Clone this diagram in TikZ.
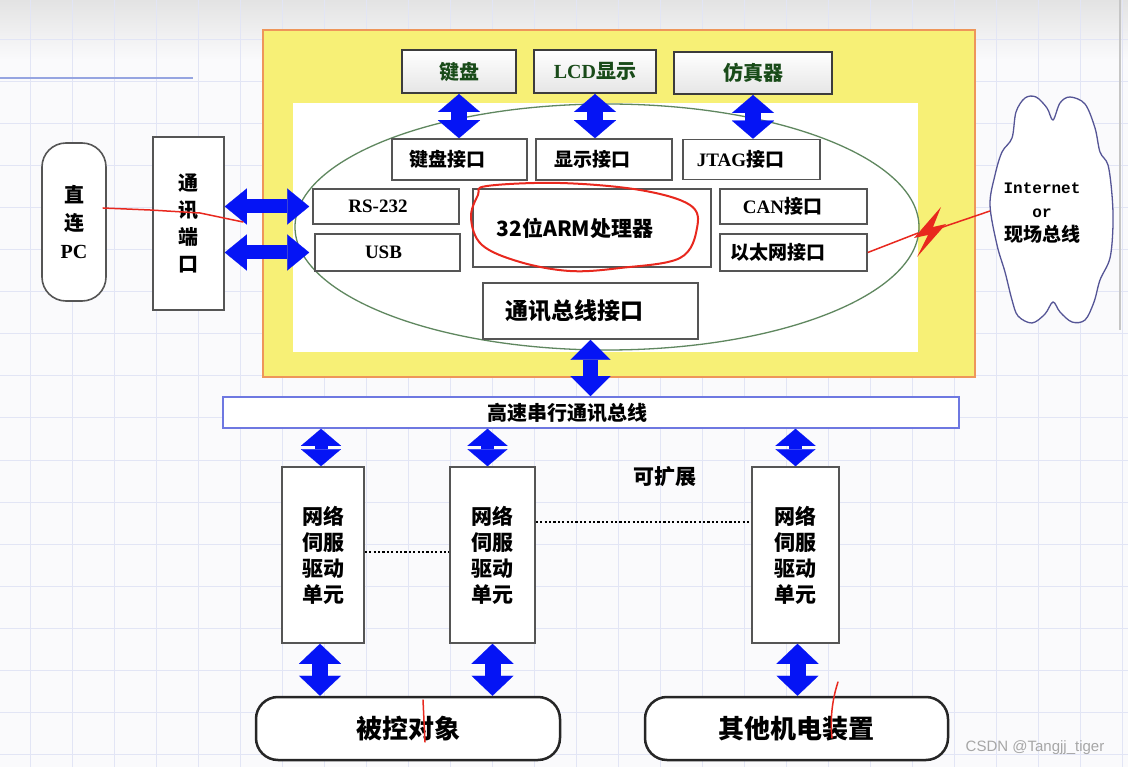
\documentclass[tikz,border=0pt]{standalone}
\usepackage{fontspec}
\setmainfont{Liberation Serif}
\newfontfamily\cjk{Noto Sans CJK SC}
\newfontfamily\mono{Liberation Mono}
\newfontfamily\wsans{Liberation Sans}
\usetikzlibrary{arrows.meta}
\newcommand\fsz[1]{\fontsize{#1}{#1}\selectfont}
\newcommand\monoline[1]{{\mono\bfseries\fontsize{16}{22}\selectfont #1}}
\newcommand\padr[1]{\rule{#1}{0pt}}
\definecolor{bgc}{RGB}{250,250,252}
\definecolor{gridc}{RGB}{226,229,245}
\definecolor{gridd}{RGB}{150,165,225}
\definecolor{ablue}{RGB}{5,20,245}
\definecolor{ylw}{RGB}{247,240,118}
\definecolor{orng}{RGB}{238,150,90}
\definecolor{boxgray}{RGB}{85,85,85}
\definecolor{topgray}{RGB}{60,60,60}
\definecolor{dgreen}{RGB}{25,75,25}
\definecolor{ellc}{RGB}{95,135,95}
\definecolor{busc}{RGB}{110,120,225}
\definecolor{cloudc}{RGB}{85,85,150}
\definecolor{annot}{RGB}{232,40,30}
\begin{document}
\begin{tikzpicture}[x=1pt,y=-1pt,
  sz/.style 2 args={minimum width=#1pt, minimum height=#2pt},
  ibox/.style={draw=boxgray, line width=1.6pt, fill=white, inner sep=0pt, font=\cjk\bfseries\fsz{19}},
  topbox/.style={draw=topgray, line width=2pt, top color=white, bottom color=gray!20, text=dgreen, inner sep=0pt, font=\cjk\bfseries\fsz{20}},
  tallbox/.style={draw=boxgray, line width=1.6pt, fill=white, inner sep=0pt, align=center},
  objbox/.style={draw=black!85, line width=2.5pt, fill=white, rounded corners=22pt, inner sep=0pt, font=\cjk\bfseries\fsz{26}},
  varr/.style={draw=ablue, line width=16pt, {Triangle[width=42pt,length=18pt,line width=0.1pt]}-{Triangle[width=42pt,length=18pt,line width=0.1pt]}},
  oarr/.style={draw=ablue, line width=16pt, {Triangle[width=42pt,length=20pt,line width=0.1pt]}-{Triangle[width=42pt,length=20pt,line width=0.1pt]}},
  harr/.style={draw=ablue, line width=14pt, {Triangle[width=36pt,length=22pt,line width=0.1pt]}-{Triangle[width=36pt,length=22pt,line width=0.1pt]}},
  barr/.style={draw=ablue, line width=13pt, {Triangle[width=40pt,length=17pt,line width=0.1pt]}-{Triangle[width=40pt,length=17pt,line width=0.1pt]}},
  marr/.style={draw=ablue, line width=15pt, {Triangle[width=40pt,length=20pt,line width=0.1pt]}-{Triangle[width=40pt,length=20pt,line width=0.1pt]}},
  dotline/.style={draw=black, line width=2.2pt, dash pattern=on 2.2pt off 2.2pt},
  annotline/.style={draw=annot, line width=2pt, line cap=round, line join=round},
  servotext/.style={font=\cjk\bfseries\fontsize{21}{26}\selectfont}
]
\useasboundingbox (0,0) rectangle (1128,767);
% background
\fill[bgc] (0,0) rectangle (1128,767);
\shade[top color=gray!22, bottom color=bgc] (0,0) rectangle (1128,60);
\foreach \x in {30,72,...,1128} \draw[gridc, line width=1pt] (\x,0) -- (\x,767);
\foreach \y in {40,82,...,767} \draw[gridc, line width=1pt] (0,\y) -- (1128,\y);
\draw[gridd, line width=1.2pt] (0,78) -- (193,78);
\draw[gray!45, line width=1.5pt] (1120,0) -- (1120,330);

% main yellow board
\node[draw=orng, line width=2pt, fill=ylw, sz={712}{347}, inner sep=0pt] (main) at (619,203.5) {};
\node[fill=white, sz={625}{249}, inner sep=0pt] (inner) at (605.5,227.5) {};
\draw[ellc, line width=1.3pt] (607,227) ellipse [x radius=312, y radius=123];

% top peripherals
\node[topbox, sz={114}{43}] (kb) at (459,71.5) {键盘};
\node[topbox, sz={122}{43}] (lcd) at (595,71.5) {{\rmfamily\bfseries LCD}显示};
\node[topbox, sz={158}{42}] (emu) at (753,73) {仿真器};

% interfaces
\node[ibox, sz={135}{41}] (kbi) at (459.5,159.5) {键盘接口\padr{24pt}};
\node[ibox, sz={136}{41}] (dsi) at (604,159.5) {显示接口\padr{24pt}};
\node[ibox, sz={137}{40}] (jtag) at (751.5,159.5) {{\rmfamily\bfseries JTAG}接口\padr{22pt}};
\node[ibox, sz={146}{35}] (rs) at (386,206.5) {{\rmfamily\bfseries RS-232}\padr{16pt}};
\node[ibox, sz={145}{37}] (usb) at (387.5,252.5) {{\rmfamily\bfseries USB}\padr{8pt}};
\node[ibox, sz={238}{78}, font=\cjk\bfseries\fsz{21}] (arm) at (592,228) {32位ARM处理器\padr{34pt}};
\node[ibox, sz={147}{35}] (can) at (793.5,206.5) {{\rmfamily\bfseries CAN}接口\padr{22pt}};
\node[ibox, sz={147}{37}] (eth) at (793.5,252.5) {以太网接口\padr{32pt}};
\node[ibox, sz={215}{56}, font=\cjk\bfseries\fsz{23}] (bi) at (590.5,311) {通讯总线接口\padr{33pt}};

% left side
\node[tallbox, sz={71}{173}, font=\cjk\bfseries\fontsize{20}{27}\selectfont] (port) at (188.5,223.5) {通\\讯\\端\\口};
\node[tallbox, sz={64}{158}, rounded corners=24pt, font=\cjk\bfseries\fontsize{20}{28}\selectfont] (pc) at (74,222) {直\\连\\\textrm{\bfseries PC}};

% cloud
\draw[cloudc, line width=1.3pt, fill=white] plot[smooth cycle, tension=0.55] coordinates {
 (1053,120) (1060,103) (1070,97) (1085,104) (1095,128) (1100,152) (1108,165) (1112,195)
 (1113,225) (1110,258) (1100,280) (1094,302) (1085,320) (1072,322) (1060,312) (1053,302)
 (1045,314) (1032,323) (1018,316) (1012,300) (1005,272) (997,245) (990,205) (995,175)
 (1002,152) (1012,138) (1016,112) (1025,98) (1036,97) (1047,108)};
\node[inner sep=0pt, align=center, font=\cjk\bfseries\fontsize{19}{24}\selectfont] (cl) at (1042,213)
  {\monoline{Internet}\\\monoline{or}\\现场总线};
\coordinate (clw) at (990,211);

% bus
\node[draw=busc, line width=1.6pt, fill=white, sz={736}{31}, inner sep=0pt, font=\cjk\bfseries\fsz{20}] (bus) at (591,412.5) {高速串行通讯总线\padr{48pt}};

% servo units
\node[tallbox, servotext, sz={82}{176}] (s1) at (323,555) {网络\\伺服\\驱动\\单元};
\node[tallbox, servotext, sz={85}{176}] (s2) at (492.5,555) {网络\\伺服\\驱动\\单元};
\node[tallbox, servotext, sz={87}{176}] (s3) at (795.5,555) {网络\\伺服\\驱动\\单元};
\node[font=\cjk\bfseries\fsz{21}, inner sep=0pt] (ext) at (665,477) {可扩展};

% objects
\node[objbox, sz={304}{63}] (o1) at (408,728.5) {被控对象};
\node[objbox, sz={303}{63}] (o2) at (796.5,728.5) {其他机电装置};

% arrows
\draw[varr] (kb.south) -- (kb.south |- kbi.north);
\draw[varr] (lcd.south) -- (lcd.south |- dsi.north);
\draw[varr] (emu.south) -- (emu.south |- jtag.north);
\draw[harr] (port.east |- rs.west) -- ([xshift=-3pt]rs.west);
\draw[harr] (port.east |- usb.west) -- ([xshift=-5pt]usb.west);
\draw[marr] (bi.south) -- (bi.south |- bus.north);
\draw[barr] ([xshift=-2pt]s1.north |- bus.south) -- ([xshift=-2pt]s1.north);
\draw[barr] ([xshift=-5pt]s2.north |- bus.south) -- ([xshift=-5pt]s2.north);
\draw[barr] (s3.north |- bus.south) -- (s3.north);
\draw[oarr] ([xshift=-3pt]s1.south) -- ([xshift=-3pt]s1.south |- o1.north);
\draw[oarr] (s2.south) -- (s2.south |- o1.north);
\draw[oarr] ([xshift=2pt]s3.south) -- ([xshift=2pt]s3.south |- o2.north);

% dotted links
\draw[dotline] (s1.east |- 0,552) -- (s2.west |- 0,552);
\draw[dotline] (s2.east |- 0,522) -- (s3.west |- 0,522);

% wireless link
\coordinate (b1) at (918,233);
\coordinate (b2) at (940,228);
\draw[annot, line width=1.5pt] (eth.east) -- (b1);
\draw[annot, line width=1.5pt] (b2) -- (clw);
\fill[annot] (941,207) -- (914,238) -- (928,235) -- (917,257) -- (946,224) -- (933,227) -- cycle;

% hand annotations
\draw[annotline] plot[smooth cycle, tension=0.6] coordinates {(487,186) (560,183) (640,190) (690,205) (697,228) (680,258) (620,268) (570,271) (520,262) (482,245) (471,218) (478,195)};
\draw[annotline, line width=1.5pt] (103,208) -- (150,210) -- (200,213) -- (243,222);
\draw[annotline, line width=1.5pt] (423,700) -- (425,742);
\draw[annotline, line width=1.5pt] (838,682) .. controls (832,700) and (830,720) .. (832,738);

% watermark
\node[font=\wsans\fsz{15}, text=gray!70, inner sep=0pt] (wm) at (1035,748) {CSDN @Tangjj\_tiger};
\end{tikzpicture}
\end{document}
